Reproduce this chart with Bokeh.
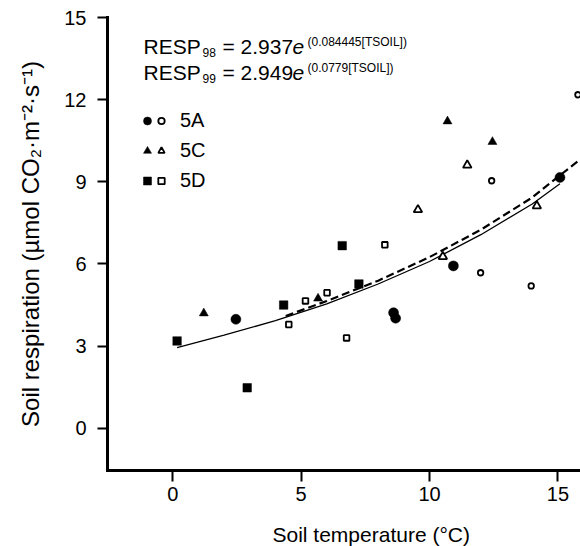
from bokeh.plotting import figure
from bokeh.models import Range1d, FixedTicker, Label, Legend, LegendItem, Title
from bokeh.embed import file_html
from bokeh.resources import INLINE

FONT = "Liberation Sans"

# ---- data ----
t98_5A = [2.46, 8.60, 8.68, 10.93, 15.08]
r98_5A = [3.98, 4.22, 4.02, 5.93, 9.16]
t99_5A = [12.42, 11.99, 13.96, 15.78]
r99_5A = [9.04, 5.68, 5.20, 12.18]
t98_5C = [1.21, 5.66, 10.70, 12.45]
r98_5C = [4.20, 4.74, 11.21, 10.46]
t99_5C = [9.55, 11.47, 10.52, 14.18]
r99_5C = [7.98, 9.61, 6.27, 8.12]
t98_5D = [0.17, 2.90, 4.32, 6.60, 7.25]
r98_5D = [3.19, 1.48, 4.50, 6.67, 5.27]
t99_5D = [4.52, 5.17, 6.01, 6.77, 8.26]
r99_5D = [3.79, 4.65, 4.95, 3.30, 6.70]

fit98_t = [0.17, 2, 4, 6, 8, 10, 12, 14, 15.08]
fit98_r = [2.95, 3.40, 3.93, 4.54, 5.27, 6.09, 7.07, 8.19, 8.93]
fit99_t = [4.4, 6, 8, 10, 12, 14, 15.85]
fit99_r = [4.10, 4.65, 5.39, 6.25, 7.25, 8.43, 9.81]

x_ticks = [0, 5, 10, 15]
y_ticks = [0, 3, 6, 9, 12, 15]
site_labels = ["5A", "5C", "5D"]
x_title = "Soil temperature (°C)"
y_title = "Soil respiration (µmol CO₂·m⁻²·s⁻¹)"

p = figure(width=580, height=546, output_backend="svg", toolbar_location=None,
           x_range=Range1d(-2.54, 15.88), y_range=Range1d(-1.54, 15),
           min_border_left=107, min_border_right=0, min_border_top=17, min_border_bottom=76)
p.outline_line_color = None
p.xgrid.visible = False
p.ygrid.visible = False
p.background_fill_color = "white"

for ax in (p.xaxis[0], p.yaxis[0]):
    ax.axis_line_width = 3
    ax.axis_line_cap = "square"
    ax.major_tick_line_width = 2
    ax.major_tick_in = 0
    ax.minor_tick_line_color = None
    ax.major_label_text_font = FONT
    ax.major_label_text_font_size = "20px"
    ax.major_label_text_color = "black"
    ax.axis_label_text_font = FONT
    ax.axis_label_text_font_size = "24px"
    ax.axis_label_text_font_style = "normal"
    ax.axis_label_text_color = "black"

p.xaxis.ticker = FixedTicker(ticks=x_ticks)
p.yaxis.ticker = FixedTicker(ticks=y_ticks)
p.xaxis.major_tick_out = 11
p.yaxis.major_tick_out = 10
p.xaxis.major_label_standoff = 5
p.yaxis.major_label_standoff = 11
p.yaxis.axis_label_standoff = 17
p.yaxis.axis_label = y_title
# spacer under the x tick labels (blank axis label) so the title sits low
p.xaxis.axis_label = " "
p.xaxis.axis_label_text_font_size = "1px"
p.xaxis.axis_label_standoff = 16

# x-axis title, placed under the axis
p.add_layout(Title(text=x_title, align="left", offset=165, standoff=-6, vertical_align="bottom",
                   text_font=FONT, text_font_size="21px", text_font_style="normal",
                   text_color="black"), "below")

# fit curves
p.line(fit98_t, fit98_r, line_color="black", line_width=1.3)
p.line(fit99_t, fit99_r, line_color="black", line_width=2.2, line_dash="8 4")

# filled (1998) markers
fA = p.scatter(t98_5A, r98_5A, marker="circle", size=10, fill_color="black", line_color="black", line_width=0.5)
fC = p.scatter(t98_5C, r98_5C, marker="triangle", size=9, fill_color="black", line_color="black", line_width=0.5)
fD = p.scatter(t98_5D, r98_5D, marker="square", size=8.5, fill_color="black", line_color="black", line_width=0.5)
# open (1999) markers
oA = p.scatter(t99_5A, r99_5A, marker="circle", size=5.5, fill_color="white", line_color="black", line_width=1.8)
oC = p.scatter(t99_5C, r99_5C, marker="triangle", size=8.5, fill_color="white", line_color="black", line_width=1.8)
oD = p.scatter(t99_5D, r99_5D, marker="square", size=5.6, fill_color="white", line_color="black", line_width=1.8)

common = dict(orientation="vertical", glyph_height=25, label_height=25, spacing=5,
              padding=0, margin=0, border_line_alpha=0, background_fill_alpha=0,
              label_text_font=FONT, label_text_font_size="20px", label_text_color="black")
legA = Legend(items=[LegendItem(label=" ", renderers=[r]) for r in (fA, fC, fD)],
              location=(30, 277), glyph_width=20, label_standoff=0, **common)
legB = Legend(items=[LegendItem(label=lab, renderers=[r]) for lab, r in zip(site_labels, (oA, oC, oD))],
              location=(46, 277), glyph_width=16, label_standoff=11, **common)
p.add_layout(legA)
p.add_layout(legB)

# equations, in screen units relative to the frame's bottom-left corner
FL, FB = 107, 470
def lab(text, ix, iy, size, style="normal"):
    p.add_layout(Label(x=ix - FL, y=FB - iy, x_units="screen", y_units="screen", text=text,
                       text_font=FONT, text_font_size=size, text_font_style=style,
                       text_color="black", text_baseline="alphabetic", text_align="left"))

for (sub, coef, expo, base) in (("98", "= 2.937", "(0.084445[TSOIL])", 46),
                                ("99", "= 2.949", "(0.0779[TSOIL])", 72)):
    lab("RESP", 143, base, "21px")
    lab(sub, 202, base + 6, "12px")
    lab(coef, 222, base, "21px")
    lab("e", 292, base, "21px", "italic")
    lab(expo, 307, base - 5, "12px")

open("out.html", "w").write(file_html(p, INLINE))
